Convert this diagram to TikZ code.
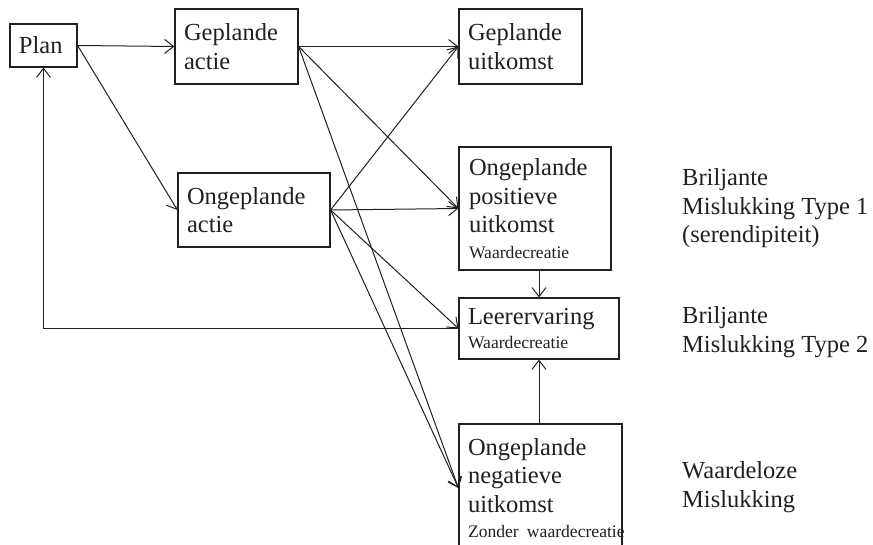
\documentclass[tikz,border=0pt]{standalone}
\usepackage{fontspec}
\setmainfont{Liberation Serif}
\usepackage{xcolor}
\usepackage{tikz}
\usetikzlibrary{positioning,arrows,arrows.meta}

\definecolor{inkt}{HTML}{231F20}
\newcommand{\klein}[1]{\mbox{\fontsize{17.6pt}{21pt}\selectfont #1}}

\begin{document}
\begin{tikzpicture}[x=1pt, y=-1pt, color=inkt, font=\fontsize{24.5pt}{28.5pt}\selectfont,
    stap/.style={draw, line width=1.2pt, align=left, inner xsep=9pt, inner ysep=0pt},
    uitleg/.style={align=left, inner sep=0pt, anchor=north west},
    pijl/.style={-{Straight Barb[length=9pt,width=14pt]}, line width=1pt}]
    \clip (0,0) rectangle (873,545);
    % boxes
    \node[stap, minimum width=67pt, minimum height=43pt, text width=49pt] (plan) at (43.5,45.5) {Plan};
    \node[stap, minimum width=123pt, minimum height=75pt, text width=105pt] (gactie) at (236.5,46.5) {Geplande\\actie};
    \node[stap, minimum width=152pt, minimum height=74pt, text width=134pt] (oactie) at (254,210) {Ongeplande\\actie};
    \node[stap, minimum width=123pt, minimum height=75pt, text width=105pt] (guit) at (520.5,46.5) {Geplande\\uitkomst};
    \node[stap, minimum width=152pt, minimum height=123pt, text width=132pt, inner xsep=10pt] (opos) at (535,208.5)
        {Ongeplande\\positieve\\uitkomst\\[-3pt]\klein{Waardecreatie}};
    \node[stap, minimum width=160pt, minimum height=61pt, text width=142pt] (leer) at (539,328.5)
        {Leerervaring\\[-4pt]\klein{Waardecreatie}};
    \node[stap, minimum width=163pt, minimum height=128pt, text width=145pt] (oneg) at (540.5,488)
        {Ongeplande\\negatieve\\uitkomst\\[-3pt]\klein{Zonder waardecreatie}};
    % labels on the right
    \node[uitleg] (bm1) at (682,168.6) {Briljante\\Mislukking Type 1\\(serendipiteit)};
    \node[uitleg] (bm2) at (682,306.6) {Briljante\\Mislukking Type 2};
    \node[uitleg] (wm) at (682,461.6) {Waardeloze\\Mislukking};
    % arrows
    \draw[pijl] (plan.east) -- (gactie.west);
    \draw[pijl] (plan.east) -- (oactie.west);
    \draw[pijl] (gactie.east) -- (guit.west);
    \draw[pijl] (gactie.east) -- (opos.west);
    \draw[pijl] (gactie.east) -- (oneg.west);
    \draw[pijl] (oactie.east) -- (guit.west);
    \draw[pijl] (oactie.east) -- (opos.west);
    \draw[pijl] (oactie.east) -- (leer.west);
    \draw[pijl] (oactie.east) -- (oneg.west);
    \draw[pijl] (opos.south -| leer.north) -- (leer.north);
    \draw[pijl] (oneg.north -| leer.south) -- (leer.south);
    \draw[pijl] (leer.west) -| (plan.south);
\end{tikzpicture}
\end{document}
